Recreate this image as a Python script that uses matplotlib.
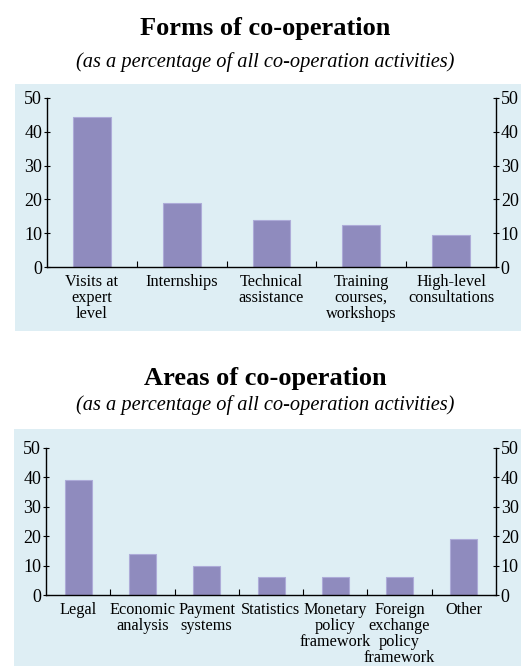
import matplotlib
matplotlib.use("Agg")
import matplotlib.pyplot as plt
from matplotlib.patches import Rectangle
import numpy as np

plt.rcParams['font.family'] = ['Liberation Serif', 'DejaVu Serif']

forms_labels = ["Visits at\nexpert\nlevel", "Internships", "Technical\nassistance",
                "Training\ncourses,\nworkshops", "High-level\nconsultations"]
forms_values = [44.5, 19, 14, 12.5, 9.5]

areas_labels = ["Legal", "Economic\nanalysis", "Payment\nsystems", "Statistics",
                "Monetary\npolicy\nframework", "Foreign\nexchange\npolicy\nframework", "Other"]
areas_values = [39, 14, 10, 6, 6, 6, 19]

yticks = [0, 10, 20, 30, 40, 50]

BAR = "#8f8bbe"
EDGE = "#adabd8"
BG = "#deeef4"

W, H = 531, 666
fig = plt.figure(figsize=(W / 100, H / 100), dpi=100)


def fx(px):
    return px / W


def fy(py):
    return 1 - py / H


# background panels
fig.patches.append(Rectangle((fx(15), fy(331)), fx(506), (331 - 84) / H,
                             transform=fig.transFigure, facecolor=BG, edgecolor='none', zorder=-5))
fig.patches.append(Rectangle((fx(14), fy(666)), fx(507), (666 - 429) / H,
                             transform=fig.transFigure, facecolor=BG, edgecolor='none', zorder=-5))


def make_panel(rect, labels, values, title, title_y, sub_y):
    ax = fig.add_axes(rect)
    ax.set_zorder(2)
    ax.set_facecolor('none')
    n = len(values)
    x = np.arange(n)
    ax.bar(x, values, width=0.42, color=BAR, edgecolor=EDGE, linewidth=0.8, zorder=2)
    ax.set_xlim(-0.5, n - 0.5)
    ax.set_ylim(0, 50)
    ax.spines['top'].set_visible(False)
    for s in ['left', 'right', 'bottom']:
        ax.spines[s].set_linewidth(1.0)
        ax.spines[s].set_color('black')
    ax.set_yticks(yticks)
    ax.tick_params(axis='y', which='major', direction='inout', length=5, width=0.8,
                   labelsize=13, pad=1, left=True, right=True, labelleft=True, labelright=True)
    ax.set_xticks(x)
    ax.set_xticklabels(labels, fontsize=11.7, linespacing=1.0, va='top')
    ax.tick_params(axis='x', which='major', length=0, pad=5)
    ax.set_xticks(np.arange(n - 1) + 0.5, minor=True)
    ax.tick_params(axis='x', which='minor', direction='in', length=4, width=0.8)
    fig.text(0.5, title_y, title, ha='center', va='center', fontsize=19, fontweight='bold')
    fig.text(0.5, sub_y, "(as a percentage of all co-operation activities)",
             ha='center', va='center', fontsize=14.7, style='italic')
    return ax


make_panel([fx(47), fy(267), fx(496 - 47), (267 - 98) / H], forms_labels, forms_values,
           "Forms of co-operation", fy(29), fy(62))
make_panel([fx(46), fy(595), fx(496 - 46), (595 - 448) / H], areas_labels, areas_values,
           "Areas of co-operation", fy(379), fy(405))

fig.savefig("out.png", dpi=100, facecolor='white')
